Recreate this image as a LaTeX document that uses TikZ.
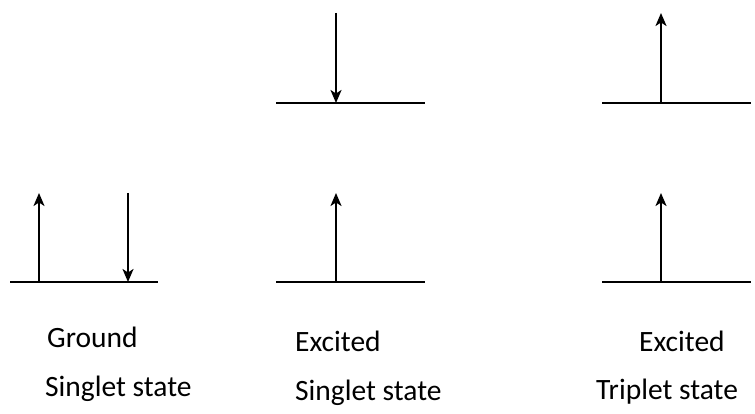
\documentclass[tikz,border=0pt]{standalone}
\usepackage{fontspec}
\setmainfont{Carlito}
\usetikzlibrary{arrows.meta}
\begin{document}
\begin{tikzpicture}[x=1pt,y=-1pt,
  level/.style={line width=2.3pt},
  spin/.style={line width=2.1pt,-{Stealth[length=13pt,width=11pt,inset=3.5pt]}},
  lbl/.style={anchor=base west,inner sep=0pt,font=\fontsize{29.5}{34}\selectfont}]
\useasboundingbox (0,0) rectangle (755,414);
% ground singlet
\coordinate (g1a) at (10,282); \coordinate (g1b) at (158,282);
\draw[level] (g1a) -- (g1b);
\coordinate (g1u0) at (39,282); \coordinate (g1u1) at (39,193);
\coordinate (g1d0) at (128,193); \coordinate (g1d1) at (128,282);
\draw[spin] (g1u0) -- (g1u1);
\draw[spin] (g1d0) -- (g1d1);
% excited singlet
\coordinate (s2a) at (276,103); \coordinate (s2b) at (425,103);
\coordinate (s1a) at (276,282); \coordinate (s1b) at (425,282);
\draw[level] (s2a) -- (s2b);
\draw[level] (s1a) -- (s1b);
\coordinate (s2t) at (336,13); \coordinate (s2e) at (336,103);
\coordinate (s1t) at (336,282); \coordinate (s1e) at (336,193);
\draw[spin] (s2t) -- (s2e);
\draw[spin] (s1t) -- (s1e);
% excited triplet
\coordinate (t2a) at (602,103); \coordinate (t2b) at (751,103);
\coordinate (t1a) at (602,282); \coordinate (t1b) at (751,282);
\draw[level] (t2a) -- (t2b);
\draw[level] (t1a) -- (t1b);
\coordinate (t2t) at (661,103); \coordinate (t2e) at (661,13);
\coordinate (t1t) at (661,282); \coordinate (t1e) at (661,193);
\draw[spin] (t2t) -- (t2e);
\draw[spin] (t1t) -- (t1e);
% labels
\node[lbl] (l1a) at (47,347) {Ground};
\node[lbl] (l1b) at (45,396) {Singlet state};
\node[lbl] (l2a) at (295,351) {Excited};
\node[lbl] (l2b) at (295,400) {Singlet state};
\node[lbl] (l3a) at (639,351) {Excited};
\node[lbl] (l3b) at (596,399) {Triplet state};
\end{tikzpicture}
\end{document}
